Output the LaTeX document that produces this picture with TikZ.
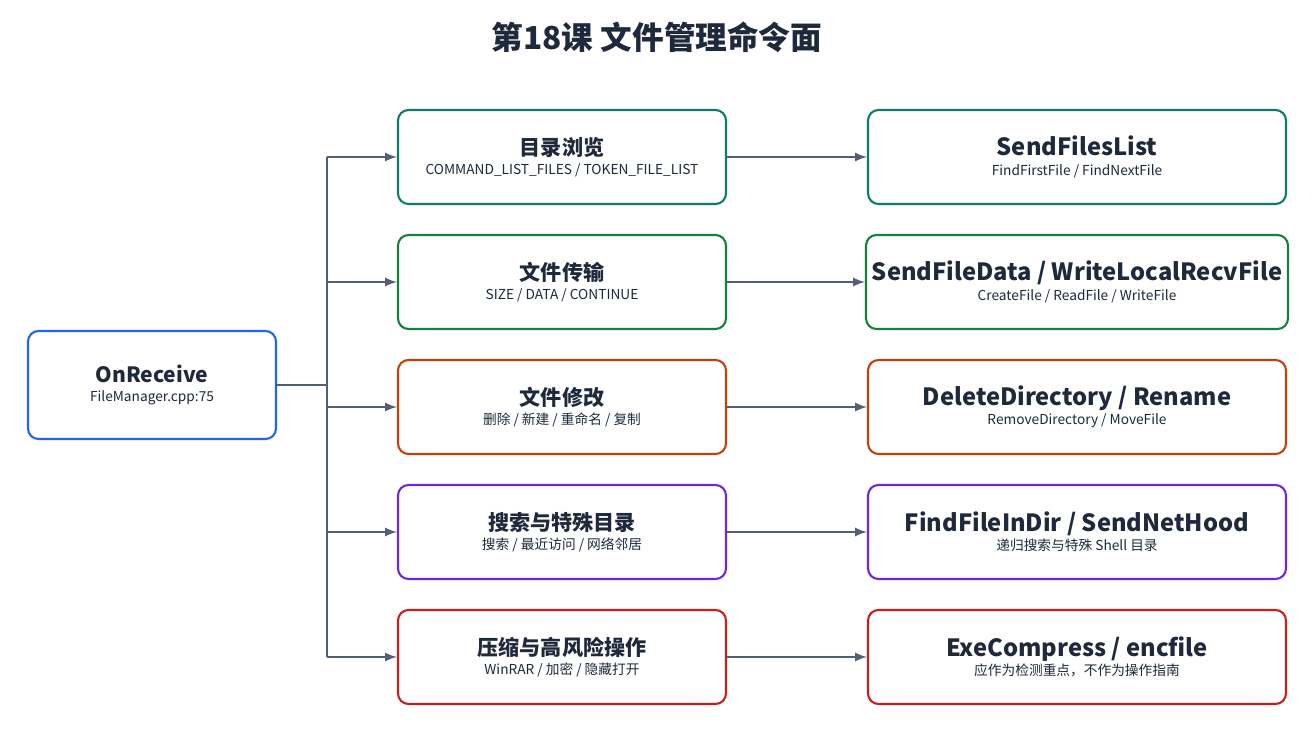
\documentclass[tikz,border=0pt]{standalone}
\usepackage{fontspec}
\setmainfont{Noto Sans CJK SC}
\usepackage{tikz}
\usetikzlibrary{positioning}
\definecolor{cteal}{HTML}{0F7B6C}
\definecolor{cgreen}{HTML}{15803D}
\definecolor{corange}{HTML}{C2410C}
\definecolor{cpurple}{HTML}{6D28D9}
\definecolor{cred}{HTML}{C81E1E}
\definecolor{cblue}{HTML}{2563EB}
\definecolor{cline}{HTML}{525F75}
\definecolor{ctext}{HTML}{1E293B}
\tikzset{
	boxnode/.style={rectangle, rounded corners=6pt, draw=#1, line width=1.2pt, fill=white, align=center, text=ctext},
	midnode/.style={boxnode=#1, minimum width=328*0.02cm, minimum height=94*0.02cm},
	rightnode/.style={boxnode=#1, minimum width=418*0.02cm, minimum height=94*0.02cm},
	link/.style={-latex, line width=1.3pt, draw=cline}
}
\newcommand{\hd}[1]{{\fontsize{12pt}{14pt}\selectfont\bfseries #1}\\[-1pt]{\fontsize{7.8pt}{9pt}\selectfont #1}}
\newcommand{\mtxt}[2]{{\fontsize{12pt}{14pt}\selectfont\bfseries #1}\\[-1pt]{\fontsize{7.8pt}{9pt}\selectfont #2}}
\newcommand{\rtxt}[2]{{\fontsize{13.5pt}{15pt}\selectfont\bfseries #1}\\[-1pt]{\fontsize{7.8pt}{9pt}\selectfont #2}}
\begin{document}
\begin{tikzpicture}[x=0.02cm, y=-0.02cm]
	\useasboundingbox (0,0) rectangle (1314,732);
	\node[text=ctext, font=\fontsize{18pt}{20pt}\selectfont\bfseries] at (657,37) (title) {第18课 文件管理命令面};

	\node[boxnode=cblue, minimum width=248*0.02cm, minimum height=108*0.02cm] at (152,385) (recv) {\mtxt{OnReceive}{FileManager.cpp:75}};

	\node[midnode=cteal] at (562,157) (m1) {\mtxt{目录浏览}{COMMAND\_LIST\_FILES / TOKEN\_FILE\_LIST}};
	\node[midnode=cgreen] at (562,282) (m2) {\mtxt{文件传输}{SIZE / DATA / CONTINUE}};
	\node[midnode=corange] at (562,407) (m3) {\mtxt{文件修改}{删除 / 新建 / 重命名 / 复制}};
	\node[midnode=cpurple] at (562,532) (m4) {\mtxt{搜索与特殊目录}{搜索 / 最近访问 / 网络邻居}};
	\node[midnode=cred] at (562,657) (m5) {\mtxt{压缩与高风险操作}{WinRAR / 加密 / 隐藏打开}};

	\node[rightnode=cteal] at (1077,157) (r1) {\rtxt{SendFilesList}{FindFirstFile / FindNextFile}};
	\node[rightnode=cgreen] at (1077,282) (r2) {\rtxt{SendFileData / WriteLocalRecvFile}{CreateFile / ReadFile / WriteFile}};
	\node[rightnode=corange] at (1077,407) (r3) {\rtxt{DeleteDirectory / Rename}{RemoveDirectory / MoveFile}};
	\node[rightnode=cpurple] at (1077,532) (r4) {\rtxt{FindFileInDir / SendNetHood}{递归搜索与特殊 Shell 目录}};
	\node[rightnode=cred] at (1077,657) (r5) {\rtxt{ExeCompress / encfile}{应作为检测重点，不作为操作指南}};

	%Lines
	\coordinate (hub) at (327,385);
	\draw[line width=1.3pt, draw=cline] (recv.east) -- (hub);
	\draw[line width=1.3pt, draw=cline] (327,157) -- (327,657);
	\foreach \i in {1,...,5} {
		\draw[link] (m\i.west -| hub) -- (m\i.west);
		\draw[link] (m\i.east) -- (r\i.west);
	}
\end{tikzpicture}
\end{document}
